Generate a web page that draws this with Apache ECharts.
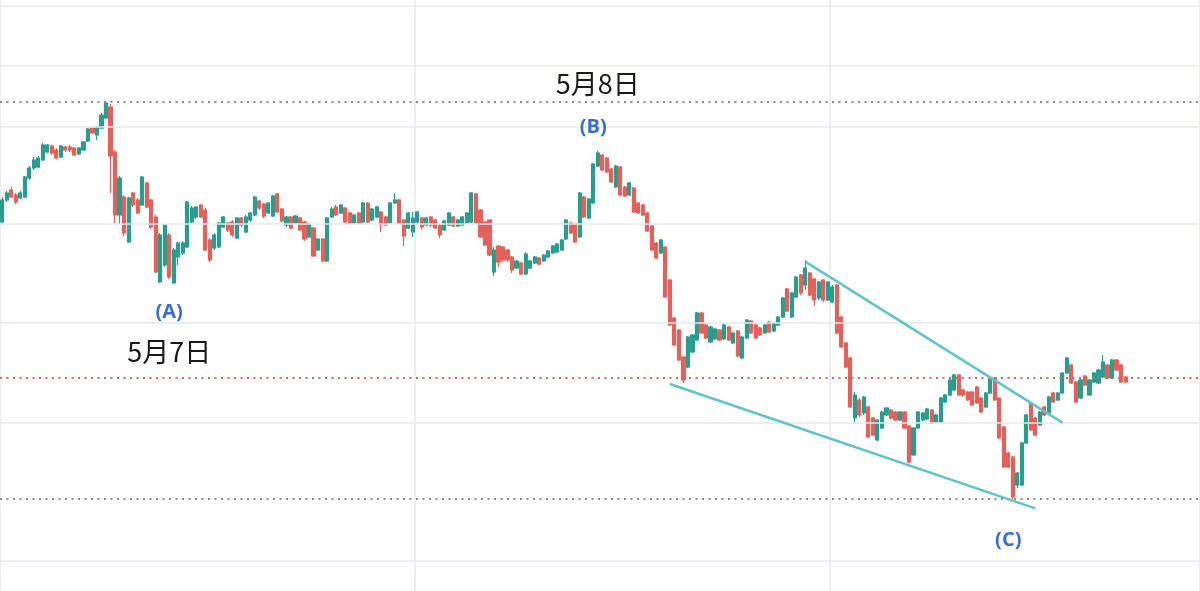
<!DOCTYPE html>
<html><head><meta charset="utf-8">
<script src="https://cdn.jsdelivr.net/npm/echarts@6/dist/echarts.min.js"></script>
<style>html,body{margin:0;padding:0;background:#fff}#c{width:1200px;height:591px}</style>
</head><body><div id="c"></div>
<script>
// candle values (price units)
const opens = [378,400,410,405,402,403,422,432,433,440,448,454,450,443,453,453,452,446,450,459,472,465,472,482,493,448,385,403,358,407,400,395,417,400,383,318,335,365,317,343,347,353,378,383,395,390,360,352,353,373,377,378,362,382,368,380,385,399,396,387,384,406,391,375,383,377,382,378,363,372,350,361,339,383,393,387,392,387,377,387,378,397,380,383,388,383,377,397,400,380,372,368,378,382,375,383,380,375,370,375,383,374,375,377,378,406,390,378,380,328,354,353,350,343,332,337,326,332,337,342,339,343,347,348,350,361,377,376,363,403,382,397,434,445,442,431,413,433,413,405,412,397,395,387,374,357,347,353,320,282,270,243,233,248,260,287,275,258,261,270,261,273,257,269,242,262,279,275,272,267,278,269,275,283,311,283,303,325,315,327,321,302,320,300,298,315,283,257,242,182,200,187,193,182,160,172,185,190,188,180,188,174,145,172,180,181,190,178,178,198,205,210,225,210,208,208,213,202,193,207,222,202,173,147,143,115,115,157,197,182,175,193,187,207,200,207,227,235,218,202,224,205,218,217,223,235,222,240,235,223];
const closes = [400,407,403,398,407,423,432,440,442,455,455,447,442,454,450,450,445,452,458,471,467,473,485,497,444,385,422,367,402,395,387,423,393,373,328,365,375,323,350,357,357,398,392,393,383,350,340,365,377,383,370,365,382,375,383,387,403,392,384,397,404,388,379,383,372,384,370,361,376,344,361,339,382,391,385,395,378,377,385,377,397,378,391,393,375,375,397,400,377,364,387,382,388,373,382,375,372,365,379,387,374,380,383,387,407,377,363,355,345,350,338,340,340,330,339,326,346,339,343,336,345,349,354,356,360,380,367,358,407,383,401,436,447,430,428,418,434,405,404,417,388,387,385,369,350,342,360,303,275,255,240,220,263,265,287,267,262,273,271,260,275,260,267,244,263,280,267,262,265,275,268,277,283,302,289,307,323,307,332,305,300,318,300,318,313,267,253,233,193,205,185,203,163,165,180,188,192,182,180,188,172,138,172,188,187,191,177,185,202,205,220,225,205,205,200,195,197,188,207,222,200,162,133,133,103,127,157,185,170,165,188,185,203,198,207,227,242,217,198,220,215,220,227,230,238,222,240,230,218,218];
const lows = [375,398,402,396,401,402,420,430,432,439,447,445,441,442,448,448,444,445,449,458,466,460,471,481,407,377,376,364,357,393,386,394,392,371,327,317,333,321,316,335,345,352,377,381,382,349,338,350,352,372,368,363,361,373,367,378,384,390,382,386,383,387,378,373,371,376,369,359,362,343,349,338,338,382,384,386,377,376,376,376,377,377,379,382,368,374,376,396,376,354,371,363,375,370,374,373,371,362,369,374,373,373,374,376,377,376,362,354,344,324,333,338,338,327,331,325,325,331,336,335,338,342,346,347,349,360,366,357,362,382,381,396,433,429,427,417,412,404,403,404,387,386,384,368,349,341,346,302,274,254,239,217,232,247,259,266,261,257,260,259,260,259,256,243,241,261,266,261,264,266,267,268,274,282,288,282,302,305,310,304,294,300,298,299,297,266,252,232,192,177,183,185,162,164,159,171,184,181,179,179,171,137,144,171,179,180,176,177,177,197,204,209,204,203,199,194,196,187,192,206,199,161,132,132,101,112,114,156,169,164,174,184,186,197,199,206,226,216,197,201,214,204,217,216,222,221,221,229,217,217];
const highs = [403,409,413,407,409,424,434,443,444,457,456,455,452,455,454,455,453,453,459,472,473,474,487,498,496,450,424,405,403,408,402,424,418,401,385,367,376,367,352,358,359,399,394,394,396,392,362,367,378,384,378,380,383,383,385,388,404,400,397,398,405,407,392,384,384,385,383,379,377,373,362,362,383,393,395,396,393,388,386,388,398,398,392,394,389,384,398,407,401,381,388,388,389,383,383,384,381,376,380,388,384,381,384,388,408,407,391,379,381,353,355,354,351,344,340,338,348,340,344,343,346,350,355,357,361,381,378,377,408,404,402,437,449,446,443,432,435,434,414,418,413,398,396,388,375,358,361,354,321,283,271,244,264,266,288,288,276,274,272,271,276,274,268,270,264,281,280,276,273,276,279,278,284,303,312,308,324,326,340,328,322,319,321,319,315,316,284,258,243,208,202,204,194,183,181,189,193,191,189,189,189,175,173,189,188,192,191,186,203,206,221,226,226,211,209,209,214,203,208,223,223,203,174,148,144,128,158,186,198,183,189,194,204,208,208,228,243,236,219,221,225,221,228,231,245,236,241,241,236,224];
const categories = Array.from({length: 266}, (_, i) => 'k' + i);
// horizontal guide levels
const gridLevels = [594, 534, 473, 376, 277, 177, 39];
const greyLevels = [498, 101];
const redLevels = [222];
// trend lines: [category index, price]
const upperTrend = [[178, 338.4], [235, 177.4]];
const lowerTrend = [[148, 216], [229, 91.6]];
// annotations: [category index, price]
const noteTexts = ['5月8日', '(B)', '(A)', '5月7日', '(C)'];
const notePos = [[132, 516], [131, 473], [37, 288], [37, 248], [223, 60]];
const noteKind = ['date', 'wave', 'wave', 'date', 'wave'];

const candles = opens.map((o, i) => [o, closes[i], lows[i], highs[i]]);
const UP = '#2a9d8f', DOWN = '#e2625b';
const chart = echarts.init(document.getElementById('c'), null, {renderer: 'canvas'});
chart.setOption({
  animation: false,
  backgroundColor: '#ffffff',
  grid: {left: 0, right: 0, top: 0, bottom: 0},
  xAxis: {
    type: 'category', data: categories, boundaryGap: true,
    axisLine: {show: false}, axisTick: {show: false}, axisLabel: {show: false},
    splitLine: {show: true, interval: 91, lineStyle: {color: '#e3e8f0', width: 1.5}}
  },
  yAxis: {
    type: 'value', min: 9, max: 600, scale: true,
    axisLine: {show: false}, axisTick: {show: false}, axisLabel: {show: false},
    splitLine: {show: false}
  },
  series: [
    {
      type: 'line', data: [], silent: true, z: 0,
      markLine: {
        silent: true, symbol: 'none', label: {show: false},
        lineStyle: {color: '#e3e8f0', width: 1.5, type: 'solid'},
        data: gridLevels.map(v => ({yAxis: v}))
      }
    },
    {
      type: 'candlestick', data: candles, barWidth: 3.6, z: 3,
      itemStyle: {color: UP, color0: DOWN, borderColor: UP, borderColor0: DOWN, borderWidth: 1.2},
      markLine: {
        silent: true, symbol: 'none', label: {show: false},
        data: greyLevels.map(v => ({yAxis: v, lineStyle: {color: '#8a8a8a', width: 2, type: [2, 4.5]}}))
          .concat(redLevels.map(v => ({yAxis: v, lineStyle: {color: '#cf6a60', width: 2, type: [2, 4.5]}})))
      }
    },
    {type: 'line', data: upperTrend, symbol: 'none', silent: true, z: 6, lineStyle: {color: '#5cc5cb', width: 2.5}},
    {type: 'line', data: lowerTrend, symbol: 'none', silent: true, z: 6, lineStyle: {color: '#5cc5cb', width: 2.5}},
    {
      type: 'custom', data: notePos, silent: true, z: 8,
      renderItem: function (params, api) {
        const p = api.coord([api.value(0), api.value(1)]);
        const k = noteKind[params.dataIndex];
        return {
          type: 'text', x: p[0], y: p[1],
          style: {
            text: noteTexts[params.dataIndex],
            fill: k === 'date' ? '#1a1a1a' : '#3a6cd6',
            font: k === 'date' ? '400 27px "Noto Sans CJK JP"' : '700 20px "Open Sans", "Noto Sans"',
            align: 'center', verticalAlign: 'middle'
          }
        };
      }
    }
  ]
});
</script></body></html>
